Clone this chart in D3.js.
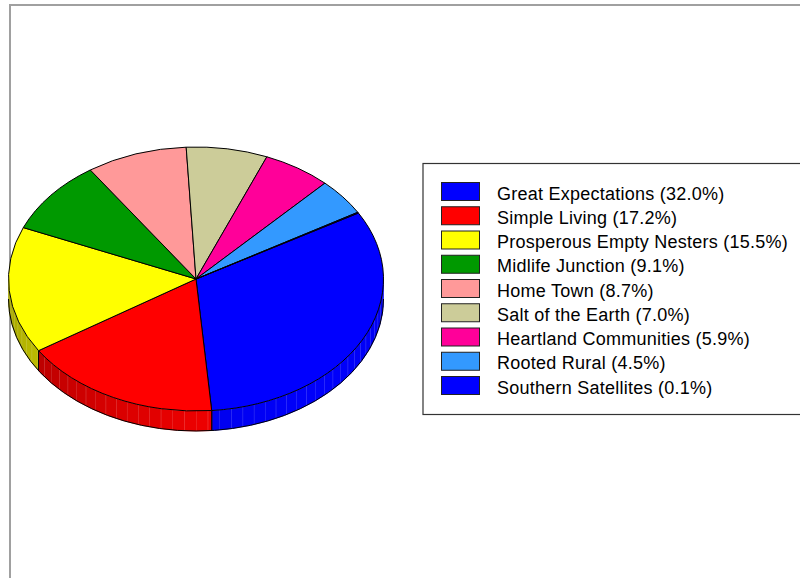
<!DOCTYPE html>
<html>
<head>
<meta charset="utf-8">
<script src="https://cdn.jsdelivr.net/npm/d3@7"></script>
<style>
  body { margin: 0; background: #fff; }
  svg { display: block; font-family: "Liberation Sans", Arial, sans-serif; }
</style>
</head>
<body>
<div id="chart"></div>
<script>
// segment names and shares (percent)
var segments = ["Great Expectations", "Simple Living", "Prosperous Empty Nesters",
    "Midlife Junction", "Home Town", "Salt of the Earth", "Heartland Communities",
    "Rooted Rural", "Southern Satellites"];
var shares = [32.0, 17.2, 15.5, 9.1, 8.7, 7.0, 5.9, 4.5, 0.1];
var colors = ["#0000ff", "#ff0000", "#ffff00", "#009900", "#ff9999",
    "#cccc99", "#ff0099", "#3399ff", "#0000ff"];

var width = 800, height = 578;

var svg = d3.select("#chart").append("svg")
    .attr("width", width)
    .attr("height", height);

// outer frame
svg.append("rect")
    .attr("x", 10).attr("y", 5)
    .attr("width", width + 10).attr("height", height + 10)
    .attr("fill", "none")
    .attr("stroke", "#a0a0a0")
    .attr("stroke-width", 2);

// pie geometry (ellipse = tilted circle)
var cx = 196, cy = 279, rx = 187.5, ry = 132, depth = 20;

var color = d3.scaleOrdinal().domain(d3.range(segments.length)).range(colors);

var pie = d3.pie().sort(null)
    .startAngle(Math.PI / 3)
    .endAngle(Math.PI / 3 + 2 * Math.PI);

var arcs = pie(shares);

// d3.pie angles start at 12 o'clock, convert to screen parametric angle
function par(a) { return a - Math.PI / 2; }
function px(a) { return cx + rx * Math.cos(a); }
function py(a) { return cy + ry * Math.sin(a); }

// side shading depending on angle
function shade(c, a) {
    var f = 0.78 + 0.2 * Math.cos(a - Math.PI / 4);
    var r = d3.rgb(c);
    return d3.rgb(r.r * f, r.g * f, r.b * f).toString();
}

var sideG = svg.append("g").attr("class", "sides");
var step = 3.6 * Math.PI / 180;

arcs.forEach(function(d, i) {
    var a0 = par(d.startAngle), a1 = par(d.endAngle);
    // visible front part: [0, PI] modulo 2PI
    [-2 * Math.PI, 0, 2 * Math.PI].forEach(function(off) {
        var s = Math.max(a0, 0 + off), e = Math.min(a1, Math.PI + off);
        if (e <= s) return;
        var t = s;
        while (t < e - 1e-9) {
            var t2 = Math.min(e, (Math.floor((t - off) / step + 1e-9) + 1) * step + off);
            var m = (t + t2) / 2;
            sideG.append("path")
                .attr("d", "M" + px(t) + "," + py(t) +
                    "A" + rx + "," + ry + " 0 0 1 " + px(t2) + "," + py(t2) +
                    "L" + px(t2) + "," + (py(t2) + depth) +
                    "A" + rx + "," + ry + " 0 0 0 " + px(t) + "," + (py(t) + depth) + "Z")
                .attr("fill", shade(color(i), m - off))
                .attr("stroke", shade(color(i), m - off))
                .attr("stroke-width", 0.5);
            if (t2 < e - 1e-9) {
                sideG.append("line")
                    .attr("x1", px(t2)).attr("y1", py(t2))
                    .attr("x2", px(t2)).attr("y2", py(t2) + depth)
                    .attr("stroke", "#fff")
                    .attr("stroke-opacity", 0.3)
                    .attr("stroke-width", 1);
            }
            t = t2;
        }
        // slice border on the side
        [s, e].forEach(function(b) {
            if (b - off > 0.01 && b - off < Math.PI - 0.01) {
                sideG.append("line")
                    .attr("x1", px(b)).attr("y1", py(b))
                    .attr("x2", px(b)).attr("y2", py(b) + depth)
                    .attr("stroke", "#000")
                    .attr("stroke-width", 1);
            }
        });
    });
});

// bottom outline of the side
sideG.append("path")
    .attr("d", "M" + px(0) + "," + (py(0) + depth) +
        "A" + rx + "," + ry + " 0 0 1 " + px(Math.PI) + "," + (py(Math.PI) + depth))
    .attr("fill", "none")
    .attr("stroke", "#000")
    .attr("stroke-width", 1);

// top face
var topG = svg.append("g").attr("class", "top");
topG.selectAll("path")
    .data(arcs)
    .enter().append("path")
    .attr("d", function(d) {
        var a0 = par(d.startAngle), a1 = par(d.endAngle);
        var large = (a1 - a0) > Math.PI ? 1 : 0;
        return "M" + cx + "," + cy +
            "L" + px(a0) + "," + py(a0) +
            "A" + rx + "," + ry + " 0 " + large + " 1 " + px(a1) + "," + py(a1) + "Z";
    })
    .attr("fill", function(d, i) { return color(i); })
    .attr("stroke", "#000")
    .attr("stroke-width", 1)
    .attr("stroke-linejoin", "round");

// legend
var legend = svg.append("g").attr("class", "legend");
legend.append("rect")
    .attr("x", 423).attr("y", 163.5)
    .attr("width", 400).attr("height", 251)
    .attr("fill", "#fff")
    .attr("stroke", "#333")
    .attr("stroke-width", 1.2);

var ly = d3.scaleLinear().domain([0, segments.length - 1]).range([182, 376]);

var items = legend.selectAll(".item")
    .data(segments)
    .enter().append("g")
    .attr("class", "item")
    .attr("transform", function(d, i) { return "translate(0," + ly(i) + ")"; });

items.append("rect")
    .attr("x", 441.5).attr("y", 0.5)
    .attr("width", 38).attr("height", 18)
    .attr("fill", function(d, i) { return color(i); })
    .attr("stroke", "#222")
    .attr("stroke-width", 1);

items.append("text")
    .attr("x", 497)
    .attr("y", 17.5)
    .attr("font-size", 18)
    .attr("letter-spacing", 0.25)
    .attr("fill", "#000")
    .text(function(d, i) { return d + " (" + shares[i].toFixed(1) + "%)"; });
</script>
</body>
</html>
